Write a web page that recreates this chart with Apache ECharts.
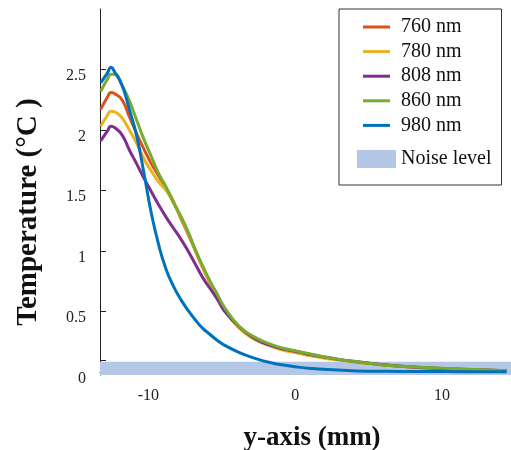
<!DOCTYPE html>
<html><head><meta charset="utf-8">
<script src="https://cdn.jsdelivr.net/npm/echarts@6/dist/echarts.min.js"></script>
<style>html,body{margin:0;padding:0;background:#fff}#c{width:511px;height:450px}</style>
</head><body><div id="c"></div>
<script>
// positions along the y-axis (mm)
const xs = [-13.45, -13, -12.75, -12.5, -12, -11.5, -11, -10.5, -10, -9.5, -9, -8.5, -8, -7.5, -7, -6.5, -6, -5.5, -5, -4, -3, -2, -1, 0, 1, 2, 3, 4, 6, 8, 10, 12, 14.2];
// temperature (°C) for each wavelength
const nm760 = [2.17, 2.27, 2.31, 2.30, 2.25, 2.11, 1.97, 1.84, 1.72, 1.62, 1.52, 1.41, 1.27, 1.14, 1.00, 0.86, 0.74, 0.63, 0.52, 0.37, 0.28, 0.23, 0.19, 0.165, 0.14, 0.115, 0.098, 0.083, 0.055, 0.039, 0.028, 0.018, 0.01];
const nm780 = [2.03, 2.12, 2.155, 2.15, 2.10, 2.00, 1.89, 1.76, 1.66, 1.57, 1.50, 1.40, 1.28, 1.15, 1.01, 0.86, 0.73, 0.62, 0.51, 0.36, 0.27, 0.22, 0.18, 0.155, 0.13, 0.11, 0.095, 0.08, 0.055, 0.038, 0.027, 0.018, 0.01];
const nm808 = [1.91, 1.99, 2.03, 2.02, 1.96, 1.835, 1.72, 1.60, 1.49, 1.38, 1.28, 1.19, 1.10, 1.00, 0.89, 0.78, 0.69, 0.60, 0.50, 0.37, 0.28, 0.225, 0.19, 0.165, 0.14, 0.12, 0.10, 0.085, 0.058, 0.04, 0.028, 0.018, 0.01];
const nm860 = [2.32, 2.42, 2.46, 2.46, 2.37, 2.24, 2.08, 1.92, 1.78, 1.64, 1.53, 1.40, 1.29, 1.16, 1.01, 0.875, 0.75, 0.64, 0.53, 0.375, 0.29, 0.235, 0.196, 0.17, 0.145, 0.12, 0.10, 0.085, 0.056, 0.042, 0.03, 0.02, 0.01];
const nm980 = [2.39, 2.47, 2.518, 2.48, 2.37, 2.17, 1.95, 1.64, 1.31, 1.05, 0.85, 0.71, 0.60, 0.51, 0.43, 0.36, 0.31, 0.26, 0.22, 0.16, 0.115, 0.08, 0.057, 0.04, 0.028, 0.02, 0.014, 0.009, 0.006, 0.004, 0.003, 0.002, 0.002];
const seriesNames = ['760 nm', '780 nm', '808 nm', '860 nm', '980 nm'];
const noiseName = 'Noise level';
const noiseBand = [-0.025, 0.085];
// axis ticks and labels
const xTicks = [-10, -5, 0, 5, 10];
const xLabels = [-10, 0, 10];
const yTicks = [0.1, 0.5, 1, 1.5, 2, 2.5];
const yLabels = [0, 0.5, 1, 1.5, 2, 2.5];

const colors = ['#D95319', '#EDB120', '#7E2F8E', '#77AC30', '#0072BD'];
const noiseColor = '#B4C7E7';
const font = 'Liberation Serif';
const axisColor = '#222';

const chart = echarts.init(document.getElementById('c'), null, {renderer: 'canvas'});
const values = [nm760, nm780, nm808, nm860, nm980];
const lineSeries = seriesNames.map((name, k) => ({
  name, type: 'line',
  data: xs.map((x, i) => [x, values[k][i]]),
  symbol: 'none', showSymbol: false, smooth: 0.5,
  lineStyle: {width: 3, color: colors[k]},
  itemStyle: {color: colors[k]},
  z: 3
}));
const noiseSeries = {
  name: noiseName, type: 'line', data: [], symbol: 'none',
  itemStyle: {color: noiseColor}, lineStyle: {color: noiseColor},
  z: 1,
  markArea: {
    silent: true,
    itemStyle: {color: noiseColor, opacity: 1},
    data: [[{yAxis: noiseBand[0]}, {yAxis: noiseBand[1]}]]
  }
};

chart.setOption({
  animation: false,
  grid: {left: 100, top: 9, right: 0, bottom: 75, containLabel: false, outerBoundsMode: 'none'},
  xAxis: {
    type: 'value', min: -13.5, max: 14.5,
    axisLine: {onZero: true, lineStyle: {color: axisColor, width: 1}},
    axisTick: {inside: true, length: 5, customValues: xTicks, lineStyle: {color: axisColor}},
    axisLabel: {customValues: xLabels, margin: 13, fontFamily: font, fontSize: 16, color: axisColor, padding: [0, 6, 0, 0]},
    splitLine: {show: false},
    name: 'y-axis (mm)', nameLocation: 'middle', nameGap: 50,
    nameTextStyle: {fontFamily: font, fontWeight: 'bold', fontSize: 27, color: '#111', padding: [0, 0, 0, 13]}
  },
  yAxis: {
    type: 'value', min: noiseBand[0], max: 3,
    axisLine: {show: true, onZero: false, lineStyle: {color: axisColor, width: 1}},
    axisTick: {show: true, inside: true, length: 6, customValues: yTicks, lineStyle: {color: axisColor}},
    axisLabel: {customValues: yLabels, margin: 14, fontFamily: font, fontSize: 16, color: axisColor, verticalAlign: 'top', lineHeight: 13},
    splitLine: {show: false},
    name: 'Temperature (°C )', nameLocation: 'middle', nameGap: 57,
    nameTextStyle: {fontFamily: font, fontWeight: 'bold', fontSize: 29, color: '#111', padding: [0, 40, 0, 0]}
  },
  legend: [
    {
      data: seriesNames, orient: 'vertical', left: 363, top: 17, padding: 0,
      itemGap: 4.6, itemWidth: 27, itemHeight: 3, icon: 'rect', selectedMode: false,
      textStyle: {fontFamily: font, fontSize: 20, color: '#111', padding: [0, 0, 0, 6]}
    },
    {
      data: [noiseName], orient: 'vertical', left: 339, top: 9, padding: [140, 10, 16, 18],
      itemWidth: 39, itemHeight: 18, icon: 'rect', selectedMode: false,
      borderColor: '#333', borderWidth: 1,
      textStyle: {fontFamily: font, fontSize: 20, color: '#111'}
    }
  ],
  series: [noiseSeries].concat(lineSeries)
});
</script>
</body></html>
